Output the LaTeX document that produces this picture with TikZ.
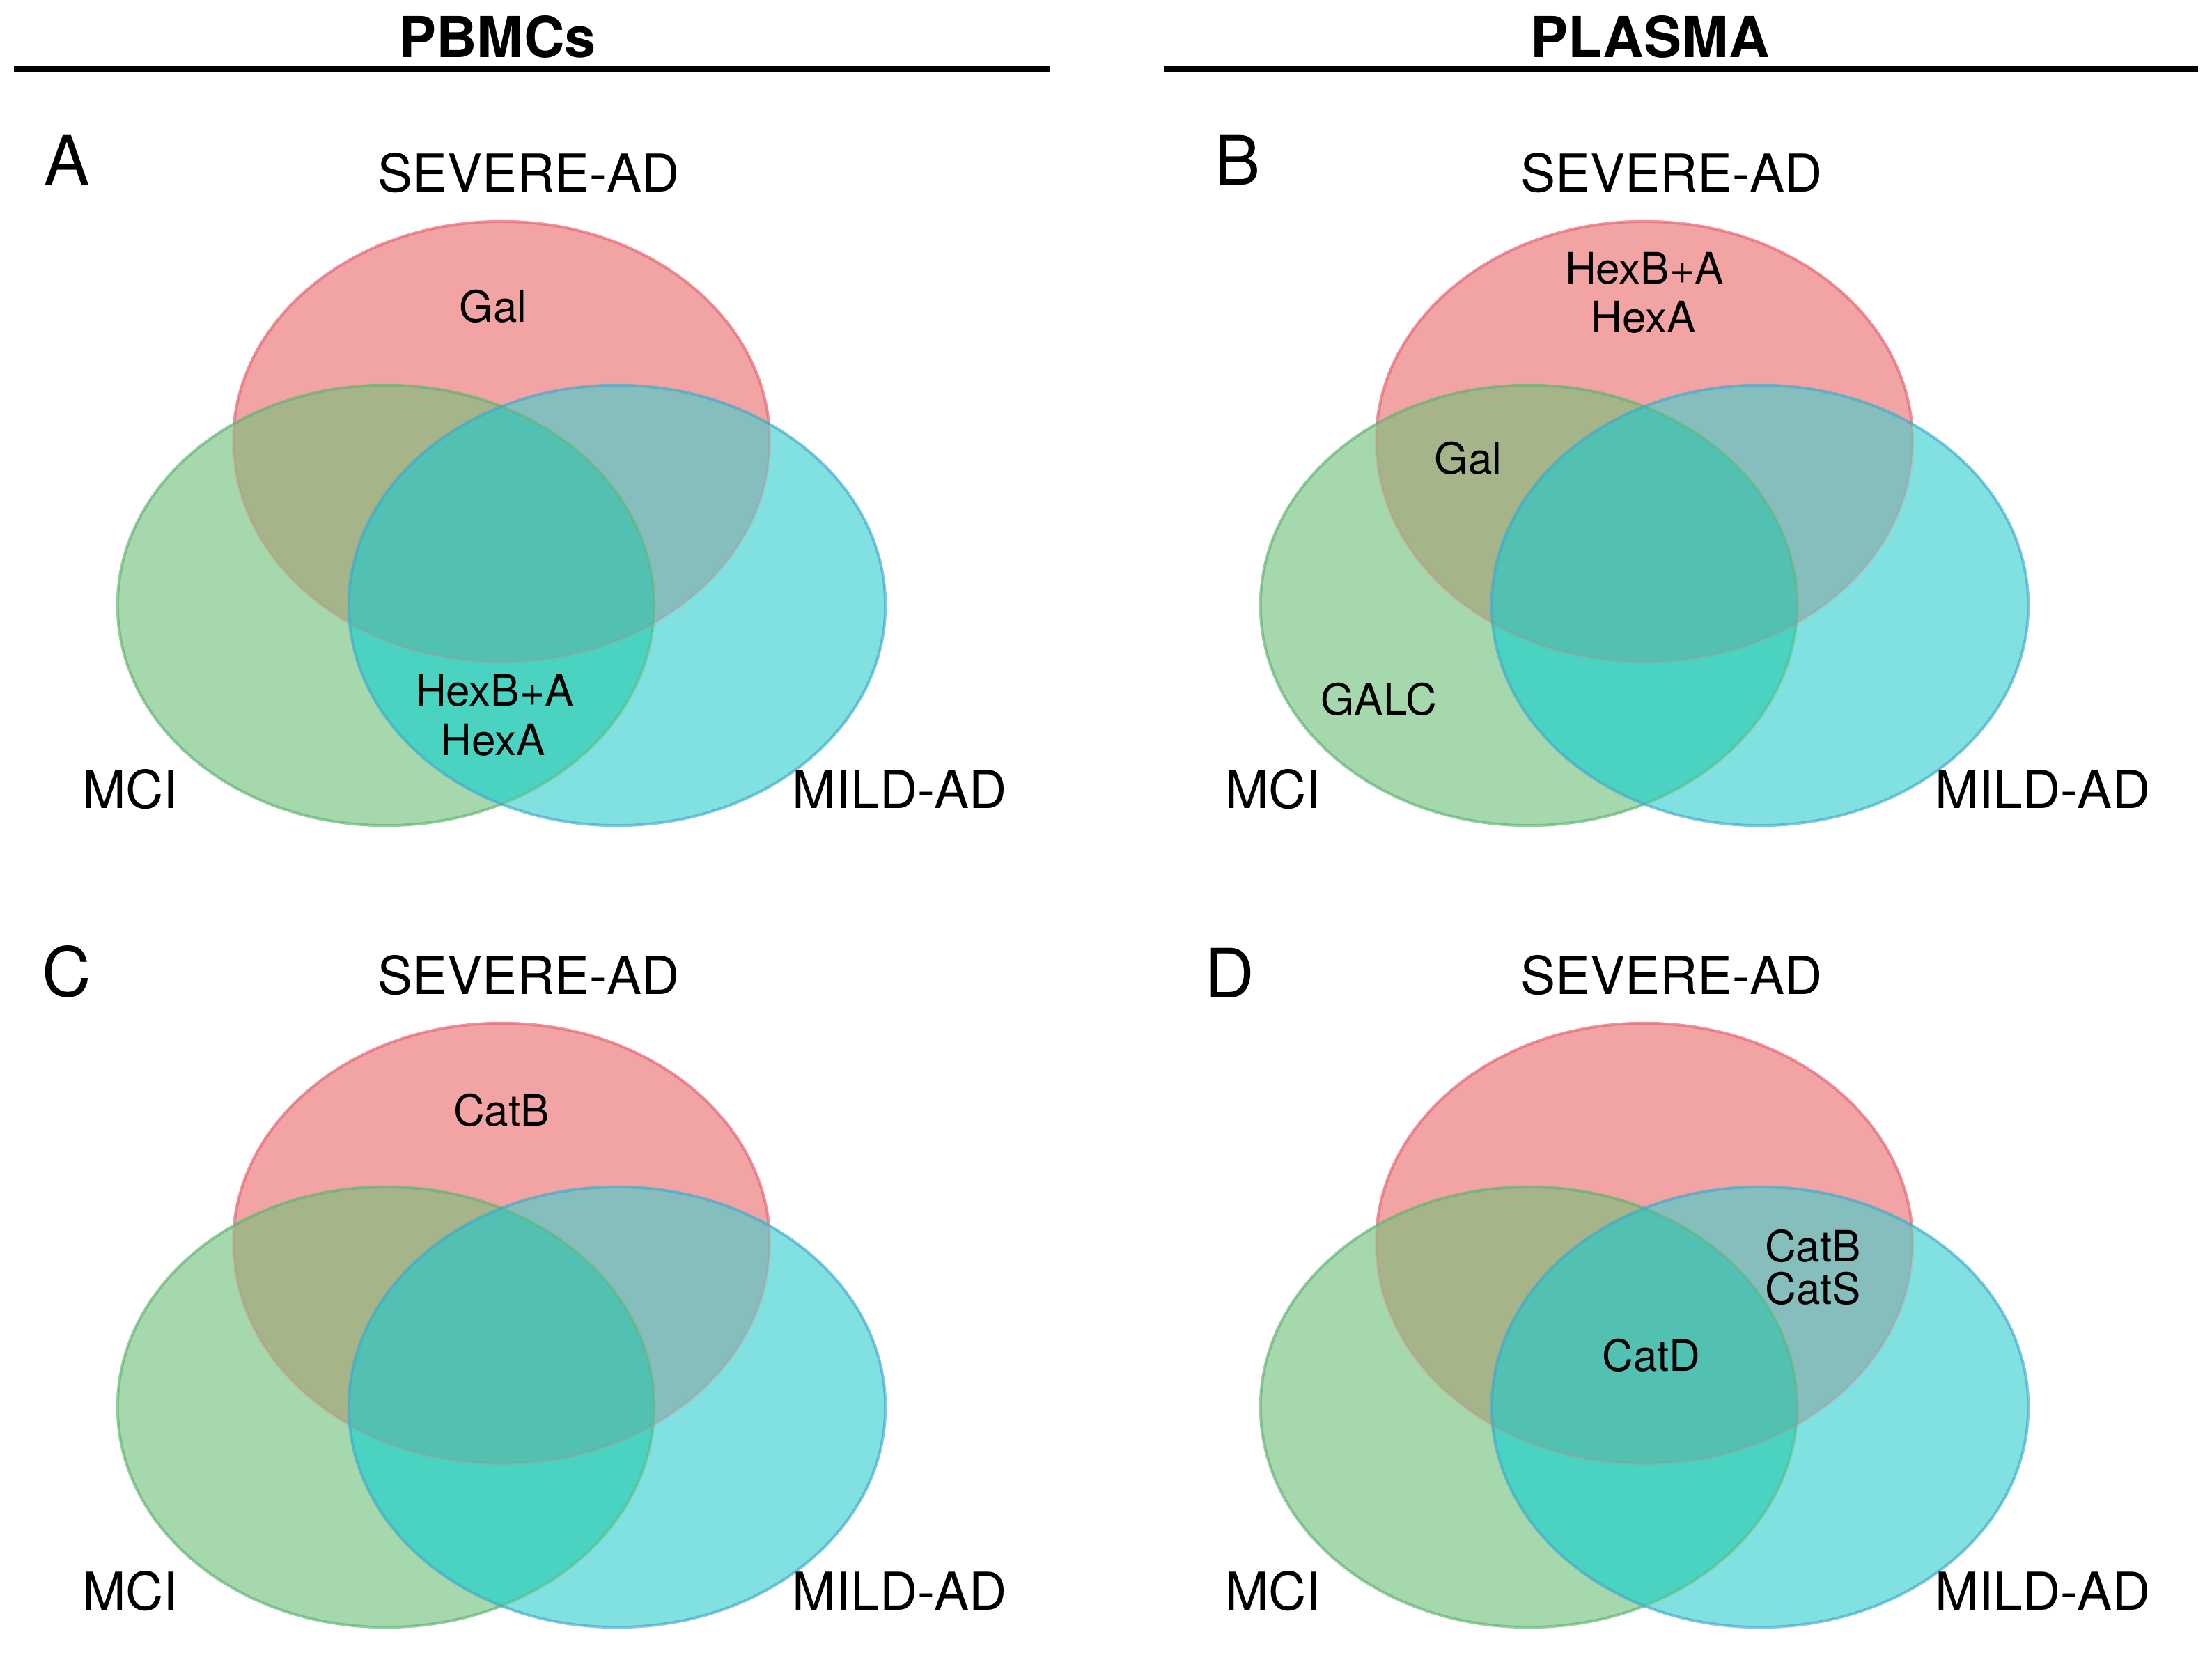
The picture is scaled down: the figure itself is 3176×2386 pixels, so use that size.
\documentclass[tikz,border=0pt]{standalone}
\usepackage{fontspec}
\setmainfont{TeX Gyre Heros}
\definecolor{cR}{RGB}{242,164,165}
\definecolor{cG}{RGB}{166,216,174}
\definecolor{cB}{RGB}{129,225,224}
\definecolor{cRG}{RGB}{165,180,137}
\definecolor{cRB}{RGB}{134,190,190}
\definecolor{cGB}{RGB}{75,211,194}
\definecolor{cRGB}{RGB}{82,193,177}
\definecolor{bR}{RGB}{230,105,120}
\definecolor{bG}{RGB}{95,178,112}
\definecolor{bB}{RGB}{65,168,205}
\tikzset{
  ell/.style={x radius=3.85cm, y radius=3.16cm},
  rim/.style={line width=1.15pt, draw opacity=0.65},
  faintrim/.style={line width=1.15pt, draw opacity=0.18},
  lab/.style={font=\fontsize{21.34}{25}\selectfont, anchor=base, inner sep=0pt},
  item/.style={font=\fontsize{17.64}{21}\selectfont, anchor=base, inner sep=0pt},
  ttl/.style={font=\fontsize{23.05}{27}\selectfont\bfseries, anchor=base, inner sep=0pt},
  letter/.style={font=\fontsize{27.8}{32}\selectfont, anchor=base west, inner sep=0pt},
  rule/.style={line width=2.28pt},
}
\newcommand\vennset[3]{%
\begin{scope}[shift={(#1,#2)}]
  \fill[cR] (720,634) ellipse [ell];
  \fill[cG] (554,869) ellipse [ell];
  \fill[cB] (886,869) ellipse [ell];
  \begin{scope}
    \clip (554,869) ellipse [ell];
    \fill[cGB] (886,869) ellipse [ell];
  \end{scope}
  \begin{scope}
    \clip (720,634) ellipse [ell];
    \fill[cRG] (554,869) ellipse [ell];
    \fill[cRB] (886,869) ellipse [ell];
    \clip (554,869) ellipse [ell];
    \fill[cRGB] (886,869) ellipse [ell];
  \end{scope}
  % red rim: strong where uncovered, faint under green/blue
  \draw[bR, faintrim] (720,634) ellipse [ell];
  \begin{scope}[even odd rule]
    \clip (-200,-200) rectangle (1700,1400) (554,869) ellipse [ell];
    \clip (-200,-200) rectangle (1700,1400) (886,869) ellipse [ell];
    \draw[bR, rim] (720,634) ellipse [ell];
  \end{scope}
  % green rim: strong where uncovered, softer under blue
  \begin{scope}[even odd rule]
    \clip (-200,-200) rectangle (1700,1400) (886,869) ellipse [ell];
    \draw[bG, rim] (554,869) ellipse [ell];
  \end{scope}
  \begin{scope}
    \clip (886,869) ellipse [ell];
    \draw[bG, line width=1.15pt, draw opacity=0.45] (554,869) ellipse [ell];
  \end{scope}
  \draw[bB, rim] (886,869) ellipse [ell];
  \node[lab] (#3sev) at (759,276) {SEVERE-AD};
  \node[lab] (#3mci) at (187,1160) {MCI};
  \node[lab] (#3mild) at (1292,1160) {MILD-AD};
\end{scope}}
\begin{document}
\begin{tikzpicture}[x=0.01cm, y=-0.01cm]
\useasboundingbox (0,0) rectangle (3176,2386);
\fill[white] (0,0) rectangle (3176,2386);
% headers
\node[ttl] (pbmcs) at (714,83) {PBMCs};
\node[ttl] (plasma) at (2369,83) {PLASMA};
\coordinate (l1a) at (20,99);
\coordinate (l1b) at (1508,99);
\coordinate (l2a) at (1671,99);
\coordinate (l2b) at (3156,99);
\draw[rule] (l1a) -- (l1b);
\draw[rule] (l2a) -- (l2b);
% panels
\vennset{0}{0}{A}
\vennset{1641}{0}{B}
\vennset{0}{1151}{C}
\vennset{1641}{1151}{D}
% panel letters
\node[letter] (la) at (63,266) {A};
\node[letter] (lb) at (1744,266) {B};
\node[letter] (lc) at (60,1430) {C};
\node[letter] (ld) at (1730,1432) {D};
% panel A items
\node[item] (agal) at (708,463) {Gal};
\node[item] (ahex1) at (710,1014) {HexB+A};
\node[item] (ahex2) at (708,1084) {HexA};
% panel B items
\node[item] (bhex1) at (2361,408) {HexB+A};
\node[item] (bhex2) at (2360,478) {HexA};
\node[item] (bgal) at (2108,681) {Gal};
\node[item] (bgalc) at (1980,1027) {GALC};
% panel C items
\node[item] (ccatb) at (720,1616) {CatB};
% panel D items
\node[item] (dcatb) at (2603,1811) {CatB};
\node[item] (dcats) at (2603,1872) {CatS};
\node[item] (dcatd) at (2371,1968) {CatD};
\end{tikzpicture}
\end{document}
